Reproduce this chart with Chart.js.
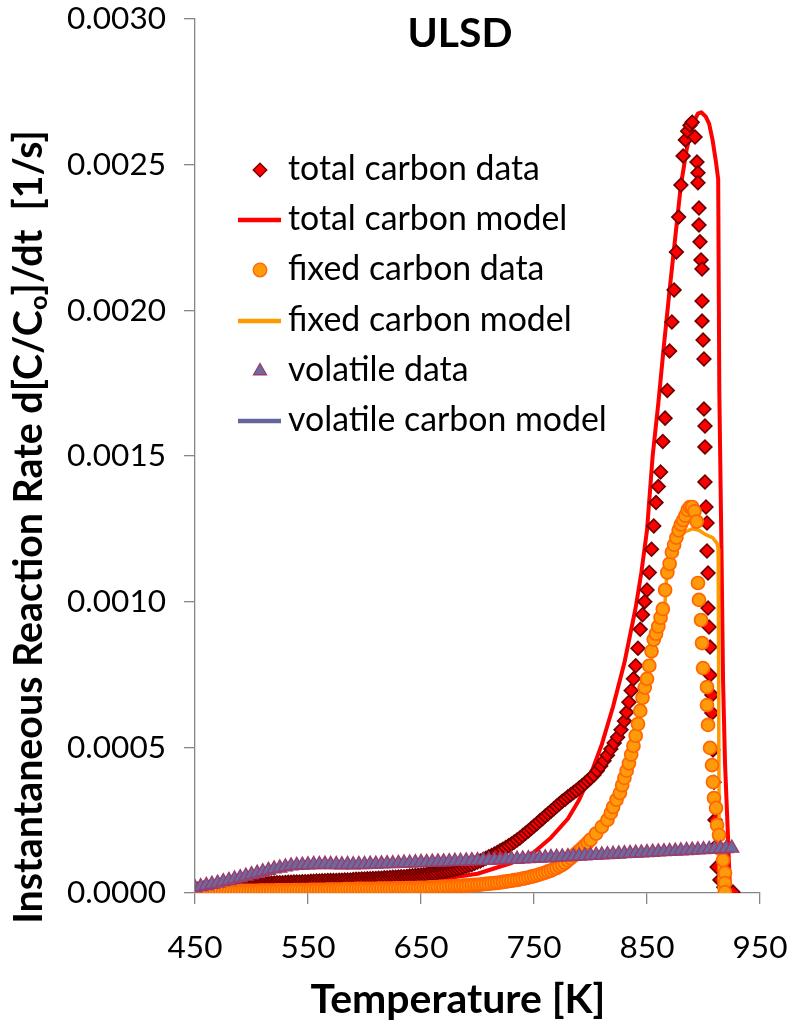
<!DOCTYPE html>
<html><head><meta charset="utf-8">
<script src="https://cdn.jsdelivr.net/npm/chart.js@4.4.0/dist/chart.umd.min.js"></script>
<style>html,body{margin:0;padding:0;background:#fff}#wrap{width:798px;height:1024px}</style>
</head><body><div id="wrap"><canvas id="c" width="798" height="1024"></canvas></div>
<script>
// ---- data (rates are in units of 1e-5 1/s) ----
const RATE_UNIT = 1e-5;
const chartTitle = 'ULSD';
const xTitle = 'Temperature [K]';
const xTickValues = [450, 550, 650, 750, 850, 950];
const yTickValues = [0, 0.0005, 0.0010, 0.0015, 0.0020, 0.0025, 0.0030];
const seriesNames = ['total carbon data', 'total carbon model', 'fixed carbon data', 'fixed carbon model', 'volatile data', 'volatile carbon model'];

// temperatures of the low-temperature data samples (shared by total and fixed carbon data)
const lowT = [450,452.5,455,457.5,460,462.5,465,467.5,470,472.5,475,477.5,480,482.5,485,487.5,490,492.5,495,497.5,
 500,502.5,505,507.5,510,512.5,515,517.5,520,522.5,525,527.5,530,532.5,535,537.5,540,542.5,545,547.5,
 550,552.5,555,557.5,560,562.5,565,567.5,570,572.5,575,577.5,580,582.5,585,587.5,590,592.5,595,597.5,
 600,602.5,605,607.5,610,612.5,615,617.5,620,622.5,625,627.5,630,632.5,635,637.5,640,642.5,645,647.5,
 650,652.5,655,657.5,660,662.5,665,667.5,670,672.5,675,677.5,680,682.5,685,687.5,690,692.5,695,697.5,
 700,702.5,705,707.5,710,712.5,715,717.5,720,722.5,725,727.5,730,732.5,735,737.5,740,742.5,745,747.5,
 750,752.5,755,757.5,760,762.5,765,767.5,770,772.5,775,777.5,780,782.5,785,787.5,790,792.5,795,797.5,800];

const totalDataT = lowT.concat([
 803,806,809,812,815,818,821,824,827,830,832,834,836,838,840,842,844,846,848,850,852,854,856,858,860,862,864,866,868,870,872,874,876,878,880,882,884,886,888,890,
 892.5,894.2,895.1,895.1,896,896,896.9,897.8,898.7,898.7,898.7,899.6,900.4,900.4,901.3,901.3,901.3,902.2,903.1,903.1,904,904,904.9,905.8,905.8,907.5,907.5,908.4,909.3,910.2,911,912,914.6,918,920.8,926.1]);
const totalDataV = [
 1.2,1.3,1.5,1.6,1.8,1.9,2.0,2.1,2.2,2.3,
 2.4,2.5,2.5,2.6,2.7,2.8,2.8,2.9,3.0,3.0,
 3.1,3.2,3.2,3.2,3.3,3.3,3.3,3.4,3.4,3.5,
 3.5,3.5,3.6,3.7,3.7,3.8,3.8,3.8,3.9,3.9,
 3.9,4.0,4.0,4.1,4.1,4.2,4.2,4.3,4.3,4.3,
 4.3,4.4,4.4,4.5,4.5,4.5,4.6,4.7,4.7,4.8,
 4.8,4.9,4.9,5.0,5.0,5.1,5.1,5.2,5.2,5.3,
 5.4,5.4,5.5,5.6,5.6,5.7,5.8,5.9,6.0,6.1,
 6.2,6.3,6.4,6.6,6.7,6.8,7.0,7.2,7.3,7.5,
 7.7,7.9,8.1,8.3,8.6,8.9,9.2,9.5,9.8,10.2,
 10.6,11.0,11.5,11.9,12.4,12.9,13.4,13.9,14.5,15.0,
 15.6,16.2,16.8,17.5,18.2,18.9,19.7,20.5,21.3,22.1,
 23.0,23.8,24.7,25.5,26.4,27.2,28.1,28.9,29.8,30.6,
 31.5,32.2,33.0,33.7,34.5,35.2,36.0,36.8,37.6,38.5,
 39.4,
 40.5,42.0,43.6,45.4,47.3,49.4,51.5,53.5,56.0,59.0,62.0,65.5,69.5,73.5,78.0,84.0,90.5,95.5,100.0,104.0,110.0,118.0,126.0,134.0,139.5,144.5,155.0,163.0,172.5,186.0,196.0,207.0,220.0,232.0,243.0,253.0,258.5,261.5,263.5,264.6,
 259.5,250.9,247.2,243.8,235.1,229.3,223.5,217.3,214.2,203.2,196.3,189.8,183.3,166.1,160.3,153.1,141.1,132.5,127.0,117.4,109.8,97.8,91.3,84.4,74.8,68.0,61.8,49.1,38.0,25.1,16.0,8.9,4.5,2.0,1.0,0.3];

const totalModelT = [450,500,550,600,650,700,730,750,765,780,790,800,810,820,830,840,845,850,855,860,865,870,875,880,885,890,895,898,902,905,908,911,913,914,916,917.3,919,921.7,923.5];
const totalModelV = [0.3,0.7,1.4,2.4,3.8,6.6,10.3,14.0,19.0,25.5,32.0,40.5,51.0,64.0,79.0,98.0,110.0,124.5,150.0,168.0,188.0,207.0,225.0,243.0,255.0,263.5,267.5,268.0,266.5,264.0,258.5,251.0,245.0,172.0,115.0,73.0,45.0,19.0,0.0];

const fixedDataT = lowT.concat([
 805,810,815,818,820,823,826,828,830,832,834,836,838,840,842,844,846,848,850,852,854,856,858,860,862,864,866,868,870,872,874,876,878,880,882,884,886,888,890,892,894,
 895.1,896,897.8,898.7,899.6,903.1,903.1,904,905.8,907.5,908.4,909.3,911.1,912,913.7,915.5,917.3,919,919,919]);
const fixedDataV = [
 0.3,0.3,0.3,0.4,0.4,0.4,0.4,0.5,0.5,0.5,
 0.5,0.5,0.5,0.6,0.6,0.6,0.6,0.7,0.7,0.7,
 0.7,0.7,0.7,0.8,0.8,0.8,0.8,0.8,0.8,0.9,
 0.9,0.9,0.9,0.9,0.9,1.0,1.0,1.0,1.0,1.0,
 1.0,1.1,1.1,1.1,1.1,1.1,1.1,1.2,1.2,1.2,
 1.2,1.2,1.2,1.3,1.3,1.3,1.3,1.4,1.4,1.4,
 1.4,1.4,1.4,1.4,1.4,1.5,1.5,1.5,1.5,1.5,
 1.5,1.6,1.6,1.6,1.6,1.7,1.7,1.7,1.7,1.8,
 1.8,1.8,1.8,1.9,1.9,2.0,2.0,2.1,2.1,2.2,
 2.2,2.3,2.3,2.4,2.4,2.5,2.5,2.6,2.7,2.8,
 2.8,2.9,3.0,3.1,3.2,3.3,3.4,3.5,3.6,3.8,
 3.9,4.1,4.2,4.4,4.5,4.7,4.9,5.1,5.3,5.6,
 5.8,6.1,6.4,6.7,7.0,7.4,7.7,8.2,8.6,9.2,
 9.7,10.4,11.2,12.0,12.8,13.6,14.5,15.4,16.3,17.3,
 18.3,
 20.4,22.7,25.1,27.5,29.5,32.0,34.3,37.0,39.5,42.0,44.5,47.5,50.5,54.0,58.0,62.5,67.0,70.5,73.5,78.0,83.0,87.0,89.0,91.5,94.5,97.5,104.0,110.0,113.0,117.0,119.5,122.0,124.5,126.5,128.0,129.5,131.5,132.5,132.5,131.0,127.5,
 106.4,100.6,93.7,85.8,77.2,70.7,64.5,57.7,49.8,43.9,38.1,32.6,29.2,23.3,19.9,15.0,11.3,6.9,3.4,0.3];

const fixedModelT = [450,500,550,600,650,700,730,760,780,800,815,830,840,850,858,862,866,868,872,878,884,890,896,902,908,912,913,913.5,914];
const fixedModelV = [0.2,0.5,0.9,1.3,1.8,3.0,4.6,7.6,11.8,19.0,27.0,41.0,54.0,72.0,88.0,94.0,100.0,112.0,118.0,122.0,124.0,125.0,124.5,123.0,122.0,120.0,118.0,60.0,0.0];

const volatileDataT = [450,455,460,465,470,475,480,485,490,495,500,505,510,515,520,525,530,535,540,545,550,555,560,565,570,575,580,585,590,595,600,605,610,615,620,625,630,635,640,645,650,655,660,665,670,675,680,685,690,695,700,705,710,715,720,725,730,735,740,745,750,755,760,765,770,775,780,785,790,795,800,805,810,815,820,825,830,835,840,845,850,855,860,865,870,875,880,885,890,895,900,905,910,915,920,925];
const volatileDataV = [1.8,2.2,2.6,3.0,3.4,3.9,4.3,4.8,5.3,5.8,
 6.3,6.8,7.3,7.8,8.3,8.6,9.0,9.3,9.5,9.6,
 9.7,9.8,9.8,9.9,9.8,9.8,9.7,9.8,9.7,9.8,
 9.8,9.9,9.9,10.0,10.1,10.1,10.2,10.3,10.3,10.4,
 10.5,10.5,10.6,10.7,10.7,10.8,10.9,10.9,11.0,11.1,
 11.1,11.2,11.3,11.3,11.4,11.5,11.6,11.6,11.7,11.8,
 11.9,12.0,12.1,12.2,12.3,12.4,12.5,12.6,12.7,12.8,
 12.9,13.0,13.1,13.2,13.3,13.4,13.5,13.6,13.7,13.8,
 13.9,14.0,14.1,14.2,14.3,14.4,14.5,14.6,14.7,14.8,
 14.9,15.0,15.1,15.2,15.3,15.4];

const volatileModelT = [450,480,510,540,570,600,650,700,750,800,850,900,925];
const volatileModelV = [1.0,3.5,6.5,8.8,9.6,9.8,10.2,10.8,11.6,12.6,13.6,14.6,15.3];

// ---- helpers ----
function pts(T, V) { return T.map((t, i) => ({ x: t, y: V[i] * RATE_UNIT })); }
const FONT = 'Lato, "Open Sans", "DejaVu Sans", sans-serif';
const mc = document.createElement('canvas').getContext('2d');
function fitSize(text, weight, targetW) { mc.font = weight + ' 100px ' + FONT; return 100 * targetW / mc.measureText(text).width; }
const tickFontSize = fitSize('0.0030', 'normal', 99);
const legendFontSize = fitSize(seriesNames[0], 'normal', 252);
const boldSize = fitSize(xTitle, 'bold', 295);
const ulsdSize = fitSize(chartTitle, 'bold', 105);
const yTitleSize = fitSize('Instantaneous Reaction Rate d[C/Co]/dt  [1/s]', 'bold', 800);

const AXIS_COLOR = '#868686';
const styles = [
  { kind: 'point', pointStyle: 'rectRot', bg: '#FF0000', border: '#700000', bw: 1.7, r: 6.8 },
  { kind: 'line', color: '#FF0000', width: 4 },
  { kind: 'point', pointStyle: 'circle', bg: '#FF9A0A', border: '#FF6600', bw: 1.7, r: 6.5 },
  { kind: 'line', color: '#FF9900', width: 3.5 },
  { kind: 'point', pointStyle: 'triangle', bg: '#6B6B9E', border: '#9A3D6E', bw: 1.4, r: 8 },
  { kind: 'line', color: '#64649E', width: 3.5 }
];
const seriesData = [
  pts(totalDataT, totalDataV), pts(totalModelT, totalModelV),
  pts(fixedDataT, fixedDataV), pts(fixedModelT, fixedModelV),
  pts(volatileDataT, volatileDataV), pts(volatileModelT, volatileModelV)
];
const drawOrder = [3, 4, 1, 2, 0, 5];

const datasets = seriesNames.map((name, i) => {
  const s = styles[i];
  if (s.kind === 'point') {
    return { label: name, data: seriesData[i], showLine: false, order: drawOrder[i],
      pointStyle: s.pointStyle, pointRadius: s.r, pointHoverRadius: s.r,
      pointBackgroundColor: s.bg, pointBorderColor: s.border, pointBorderWidth: s.bw,
      backgroundColor: s.bg, borderColor: s.border };
  }
  return { label: name, data: seriesData[i], showLine: true, order: drawOrder[i],
    borderColor: s.color, backgroundColor: s.color, borderWidth: s.width,
    pointRadius: 0, pointHoverRadius: 0, tension: 0, fill: false, borderJoinStyle: 'round' };
});

function drawMarker(ctx, s, x, y) {
  ctx.save();
  ctx.fillStyle = s.bg; ctx.strokeStyle = s.border; ctx.lineWidth = 1.3;
  ctx.beginPath();
  const r = s.pointStyle === 'triangle' ? 7.5 : 6.8;
  if (s.pointStyle === 'rectRot') {
    ctx.moveTo(x, y - r); ctx.lineTo(x + r, y); ctx.lineTo(x, y + r); ctx.lineTo(x - r, y); ctx.closePath();
  } else if (s.pointStyle === 'circle') {
    ctx.arc(x, y, r, 0, Math.PI * 2);
  } else {
    const a = Math.PI * 2 / 3;
    ctx.moveTo(x, y - r);
    ctx.lineTo(x + Math.sin(a) * r, y - Math.cos(a) * r);
    ctx.lineTo(x + Math.sin(2 * a) * r, y - Math.cos(2 * a) * r);
    ctx.closePath();
  }
  ctx.fill(); ctx.stroke();
  ctx.restore();
}

const decorPlugin = {
  id: 'decor',
  beforeDraw(chart) {
    const ctx = chart.ctx;
    ctx.save(); ctx.fillStyle = '#fff'; ctx.fillRect(0, 0, chart.width, chart.height); ctx.restore();
  },
  afterDraw(chart) {
    const ctx = chart.ctx;
    ctx.save();
    ctx.fillStyle = '#000';
    ctx.font = 'bold ' + ulsdSize + 'px ' + FONT;
    ctx.textAlign = 'center'; ctx.textBaseline = 'alphabetic';
    ctx.fillText(chartTitle, 460, 47);
    // legend
    const baselines = [180, 230, 280, 331, 381, 431];
    ctx.font = legendFontSize + 'px ' + FONT;
    ctx.textAlign = 'left';
    seriesNames.forEach((name, i) => {
      const s = styles[i];
      const yb = baselines[i];
      const ym = yb - 10;
      if (s.kind === 'point') drawMarker(ctx, s, 260, ym);
      else {
        ctx.save(); ctx.strokeStyle = s.color; ctx.lineWidth = 4.5; ctx.lineCap = 'butt';
        ctx.beginPath(); ctx.moveTo(238, ym); ctx.lineTo(281, ym); ctx.stroke(); ctx.restore();
      }
      ctx.fillStyle = '#000';
      ctx.fillText(name, 288, yb);
    });
    // x axis title
    ctx.font = 'bold ' + boldSize + 'px ' + FONT;
    ctx.textAlign = 'center';
    ctx.fillText(xTitle, 458, 1013);
    // y axis title with subscript
    const parts = [
      { t: 'Instantaneous Reaction Rate d[C/C', sub: false },
      { t: 'o', sub: true },
      { t: ']/dt  [1/s]', sub: false }
    ];
    const mainFont = 'bold ' + yTitleSize + 'px ' + FONT;
    const subFont = 'bold ' + (yTitleSize * 0.65) + 'px ' + FONT;
    let total = 0;
    parts.forEach(p => { ctx.font = p.sub ? subFont : mainFont; p.w = ctx.measureText(p.t).width; total += p.w; });
    ctx.translate(42, 527);
    ctx.rotate(-Math.PI / 2);
    ctx.textAlign = 'left';
    let u = -total / 2;
    parts.forEach(p => {
      ctx.font = p.sub ? subFont : mainFont;
      ctx.fillText(p.t, u, p.sub ? yTitleSize * 0.12 : 0);
      u += p.w;
    });
    ctx.restore();
  }
};

function zeroPad(s) { s.paddingTop = 0; s.paddingBottom = 0; s.paddingLeft = 0; s.paddingRight = 0; }

new Chart(document.getElementById('c'), {
  type: 'scatter',
  data: { datasets },
  options: {
    responsive: false,
    animation: false,
    devicePixelRatio: 1,
    layout: { padding: { top: 19, right: 38, left: 0, bottom: 0 } },
    plugins: { legend: { display: false }, tooltip: { enabled: false }, title: { display: false } },
    scales: {
      x: {
        type: 'linear', min: xTickValues[0], max: xTickValues[xTickValues.length - 1],
        afterFit: s => { s.height = 131; zeroPad(s); },
        afterBuildTicks: s => { s.ticks = xTickValues.map(v => ({ value: v })); },
        ticks: { font: { family: FONT, size: tickFontSize }, color: '#000', padding: 25, maxRotation: 0, autoSkip: false,
          callback: v => String(v) },
        grid: { drawOnChartArea: false, drawTicks: true, tickLength: 11, color: AXIS_COLOR, lineWidth: 1.3 },
        border: { color: AXIS_COLOR, width: 1.3 }
      },
      y: {
        type: 'linear', min: yTickValues[0], max: yTickValues[yTickValues.length - 1],
        afterFit: s => { s.width = 195; zeroPad(s); },
        afterBuildTicks: s => { s.ticks = yTickValues.map(v => ({ value: v })); },
        ticks: { font: { family: FONT, size: tickFontSize }, color: '#000', padding: 18, autoSkip: false,
          callback: v => Number(v).toFixed(4) },
        grid: { drawOnChartArea: false, drawTicks: true, tickLength: 11, color: AXIS_COLOR, lineWidth: 1.3 },
        border: { color: AXIS_COLOR, width: 1.3 }
      }
    }
  },
  plugins: [decorPlugin]
});
</script>
</body></html>
